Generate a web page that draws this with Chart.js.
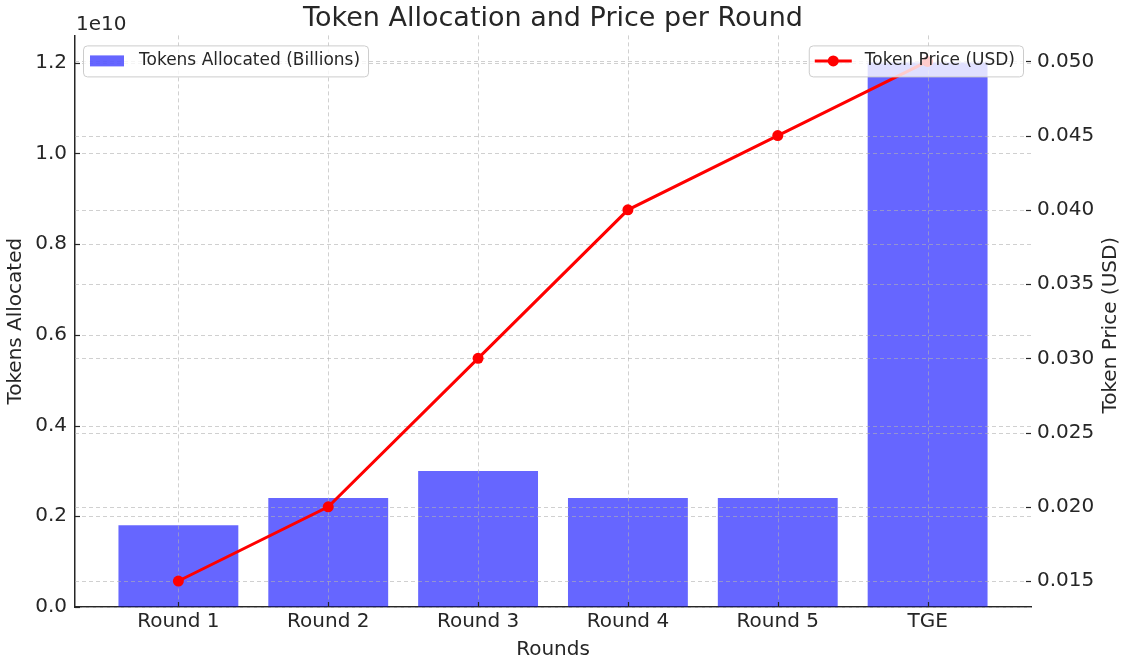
<!DOCTYPE html>
<html>
<head>
<meta charset="utf-8">
<script src="https://cdn.jsdelivr.net/npm/chart.js@4.4.1/dist/chart.umd.min.js"></script>
<style>
  html, body { margin: 0; padding: 0; background: #fff; }
  #wrap { width: 1123px; height: 663px; }
</style>
</head>
<body>
<div id="wrap"><canvas id="myChart" width="1123" height="663"></canvas></div>
<script>
const categories = ["Round 1", "Round 2", "Round 3", "Round 4", "Round 5", "TGE"];
const tokensAllocated = [1.8e9, 2.4e9, 3.0e9, 2.4e9, 2.4e9, 12e9];
const tokenPrice = [0.015, 0.020, 0.030, 0.040, 0.045, 0.050];
const tokenTicks = [0, 0.2e10, 0.4e10, 0.6e10, 0.8e10, 1.0e10, 1.2e10];
const priceTicks = [0.015, 0.020, 0.025, 0.030, 0.035, 0.040, 0.045, 0.050];

const FONT = "'DejaVu Sans', sans-serif";
const TEXT = "#262626";
const GRID = "rgba(176,176,176,0.6)";

// matplotlib style 5% margins
const priceSpan = Math.max(...tokenPrice) - Math.min(...tokenPrice);
const priceMin = Math.min(...tokenPrice) - priceSpan * 0.05;
const priceMax = Math.max(...tokenPrice) + priceSpan * 0.05;
const tokenMax = Math.max(...tokensAllocated) * 1.05;
const xSpan = (categories.length - 1) + 0.8;
const xMin = -0.4 - xSpan * 0.05;
const xMax = categories.length - 1 + 0.4 + xSpan * 0.05;

const overlay = {
  id: "overlay",
  afterDatasetDraw(chart, args) {
    if (args.index !== 0) return;
    // grid goes above the bars but under the price line
    const ctx = chart.ctx, a = chart.chartArea;
    ctx.save();
    ctx.strokeStyle = GRID;
    ctx.lineWidth = 1;
    ctx.setLineDash([4, 3]);
    chart.scales.x.ticks.forEach(t => {
      const px = Math.round(chart.scales.x.getPixelForValue(t.value)) + 0.5;
      ctx.beginPath(); ctx.moveTo(px, a.top); ctx.lineTo(px, a.bottom); ctx.stroke();
    });
    ["y", "y1"].forEach(id => {
      const s = chart.scales[id];
      s.ticks.forEach(t => {
        const py = Math.round(s.getPixelForValue(t.value)) + 0.5;
        ctx.beginPath(); ctx.moveTo(a.left, py); ctx.lineTo(a.right, py); ctx.stroke();
      });
    });
    ctx.restore();
  },
  afterDraw(chart) {
    const ctx = chart.ctx, a = chart.chartArea;
    ctx.save();
    // inward tick marks
    ctx.strokeStyle = TEXT;
    ctx.lineWidth = 1.2;
    chart.scales.x.ticks.forEach(t => {
      const px = Math.round(chart.scales.x.getPixelForValue(t.value)) + 0.5;
      ctx.beginPath(); ctx.moveTo(px, a.bottom); ctx.lineTo(px, a.bottom - 5); ctx.stroke();
    });
    chart.scales.y.ticks.forEach(t => {
      const py = Math.round(chart.scales.y.getPixelForValue(t.value)) + 0.5;
      ctx.beginPath(); ctx.moveTo(a.left, py); ctx.lineTo(a.left + 5, py); ctx.stroke();
    });
    chart.scales.y1.ticks.forEach(t => {
      const py = Math.round(chart.scales.y1.getPixelForValue(t.value)) + 0.5;
      ctx.beginPath(); ctx.moveTo(a.right, py); ctx.lineTo(a.right - 5, py); ctx.stroke();
    });

    // offset text of the left axis
    ctx.fillStyle = TEXT;
    ctx.font = "20px " + FONT;
    ctx.textAlign = "left";
    ctx.textBaseline = "middle";
    ctx.fillText("1e10", a.left + 1, a.top - 11);

    // right axis title, reading bottom to top
    ctx.save();
    ctx.translate(chart.width - 12, (a.top + a.bottom) / 2 + 4);
    ctx.rotate(-Math.PI / 2);
    ctx.textAlign = "center";
    ctx.fillText("Token Price (USD)", 0, 0);
    ctx.restore();

    // legends
    ctx.font = "17px " + FONT;
    ctx.textBaseline = "middle";
    const h = 31;
    const top = a.top + 10;
    const cy = top + h / 2;

    const t1 = "Tokens Allocated (Billions)";
    const w1 = 56 + ctx.measureText(t1).width + 8;
    const x1 = a.left + 8;
    box(ctx, x1, top, w1, h);
    ctx.fillStyle = "rgba(0,0,255,0.6)";
    ctx.fillRect(x1 + 7, cy - 5.5, 34, 11);
    ctx.fillStyle = TEXT;
    ctx.fillText(t1, x1 + 56, cy);

    const t2 = "Token Price (USD)";
    const w2 = 56 + ctx.measureText(t2).width + 8;
    const x2 = a.right - 8 - w2;
    box(ctx, x2, top, w2, h);
    ctx.strokeStyle = "red";
    ctx.lineWidth = 3;
    ctx.beginPath(); ctx.moveTo(x2 + 6, cy); ctx.lineTo(x2 + 43, cy); ctx.stroke();
    ctx.fillStyle = "red";
    ctx.beginPath(); ctx.arc(x2 + 24.5, cy, 5.5, 0, Math.PI * 2); ctx.fill();
    ctx.fillStyle = TEXT;
    ctx.fillText(t2, x2 + 56, cy);
    ctx.restore();
  }
};

function box(ctx, x, y, w, h) {
  ctx.save();
  ctx.beginPath();
  ctx.roundRect(x + 0.5, y + 0.5, w, h, 4);
  ctx.fillStyle = "rgba(255,255,255,0.8)";
  ctx.fill();
  ctx.strokeStyle = "#cccccc";
  ctx.lineWidth = 1;
  ctx.stroke();
  ctx.restore();
}

new Chart(document.getElementById("myChart"), {
  data: {
    datasets: [
      {
        type: "bar",
        label: "Tokens Allocated (Billions)",
        data: tokensAllocated.map((v, i) => ({ x: i, y: v })),
        backgroundColor: "rgba(0,0,255,0.6)",
        borderWidth: 0,
        barPercentage: 0.8,
        categoryPercentage: 1.0,
        yAxisID: "y",
        order: 2
      },
      {
        type: "line",
        label: "Token Price (USD)",
        data: tokenPrice.map((v, i) => ({ x: i, y: v })),
        borderColor: "red",
        backgroundColor: "red",
        borderWidth: 3,
        pointRadius: 5.5,
        pointBorderWidth: 0,
        tension: 0,
        yAxisID: "y1",
        order: 1
      }
    ]
  },
  options: {
    responsive: false,
    animation: false,
    layout: { padding: 0 },
    plugins: {
      legend: { display: false },
      tooltip: { enabled: false },
      title: {
        display: true,
        text: "Token Allocation and Price per Round",
        fullSize: false,
        color: TEXT,
        font: { family: FONT, size: 27, weight: "normal" },
        padding: { top: 3, bottom: 0 }
      }
    },
    scales: {
      x: {
        type: "linear",
        offset: false,
        min: xMin,
        max: xMax,
        afterBuildTicks: s => { s.ticks = categories.map((c, i) => ({ value: i })); },
        afterFit: s => { s.height = 56; },
        ticks: {
          callback: v => categories[v],
          color: TEXT,
          font: { family: FONT, size: 20 },
          padding: 3,
          maxRotation: 0
        },
        grid: { display: true, color: "rgba(0,0,0,0)", drawTicks: false },
        border: { display: true, color: TEXT, width: 1.5 },
        title: {
          display: true, text: "Rounds", color: TEXT,
          font: { family: FONT, size: 20 }, padding: { top: 0, bottom: 1 }
        }
      },
      y: {
        type: "linear",
        position: "left",
        min: 0,
        max: tokenMax,
        afterBuildTicks: s => { s.ticks = tokenTicks.map(v => ({ value: v })); },
        afterFit: s => { s.width = 75; },
        ticks: {
          callback: v => (v / 1e10).toFixed(1),
          color: TEXT,
          font: { family: FONT, size: 20 },
          padding: 8
        },
        grid: { display: true, color: "rgba(0,0,0,0)", drawTicks: false },
        border: { display: true, color: TEXT, width: 1.5 },
        title: {
          display: true, text: "Tokens Allocated", color: TEXT,
          font: { family: FONT, size: 20 }, padding: { top: 4, bottom: 0 }
        }
      },
      y1: {
        type: "linear",
        position: "right",
        min: priceMin,
        max: priceMax,
        afterBuildTicks: s => { s.ticks = priceTicks.map(v => ({ value: v })); },
        afterFit: s => { s.width = 92; },
        ticks: {
          callback: v => v.toFixed(3),
          color: TEXT,
          font: { family: FONT, size: 20 },
          padding: 6
        },
        grid: { display: true, color: "rgba(0,0,0,0)", drawTicks: false, drawOnChartArea: false },
        border: { display: false },
        title: { display: false }
      }
    }
  },
  plugins: [overlay]
});
</script>
</body>
</html>
